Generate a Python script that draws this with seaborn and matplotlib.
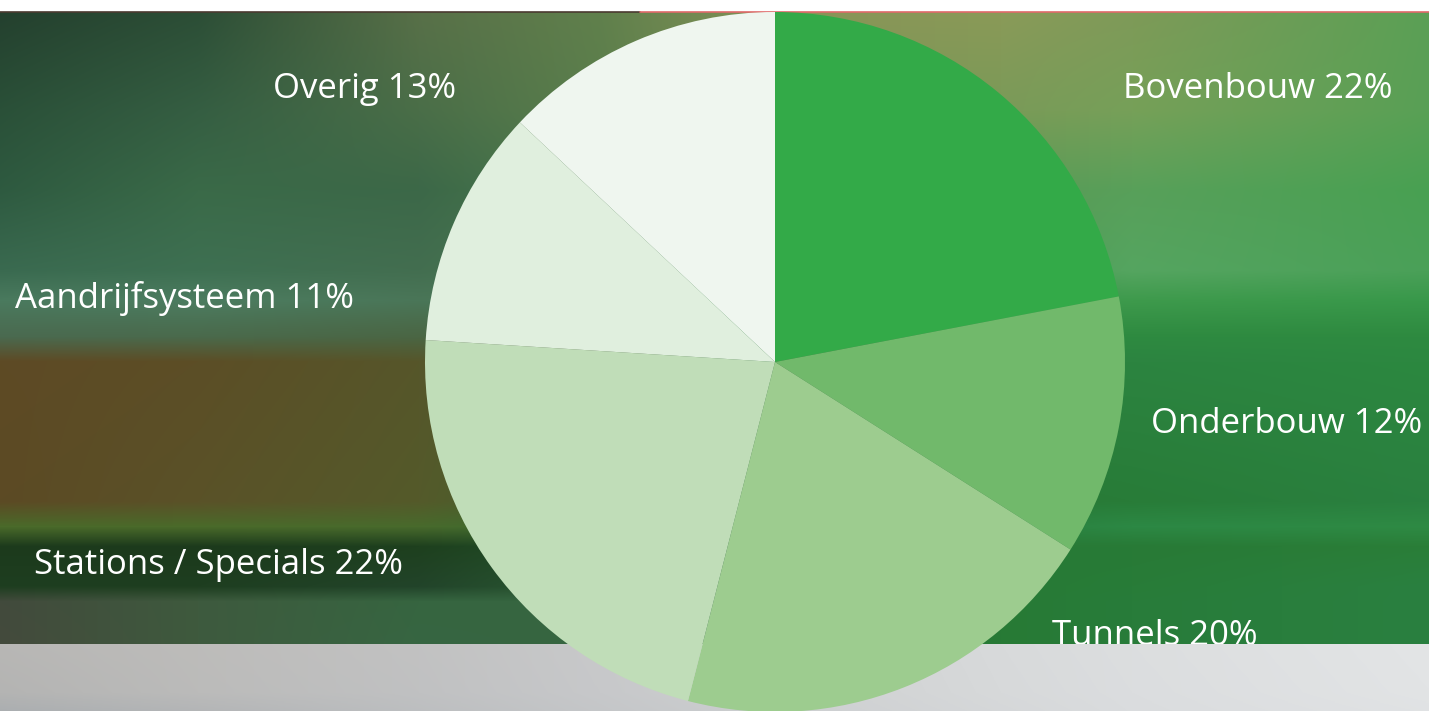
import numpy as np
import matplotlib
matplotlib.use("Agg")
import matplotlib.pyplot as plt
import seaborn as sns

# ---- data ----
categories = ["Bovenbouw", "Onderbouw", "Tunnels", "Stations / Specials", "Aandrijfsysteem", "Overig"]
shares = [22, 12, 20, 22, 11, 13]
slice_colors = ["#33aa48", "#71b96b", "#9dcc8f", "#c0ddb8", "#e0efde", "#eff6ef"]

sns.set_theme(style="white")
plt.rcParams["font.family"] = ["Open Sans", "DejaVu Sans"]

W, H = 1429, 711
fig = plt.figure(figsize=(W / 100, H / 100), dpi=100)
ax = fig.add_axes([0, 0, 1, 1])
ax.set_xlim(0, W)
ax.set_ylim(0, H)
ax.axis("off")

def Y(y):
    return H - y

# ---- photographic-like background (decoration) ----
def hx(c):
    c = c.lstrip("#")
    return [int(c[i:i + 2], 16) / 255 for i in (0, 2, 4)]

def grid_image(xs_nodes, rows, y0, y1):
    xpix = np.arange(W)
    row_imgs = []
    for _, cols in rows:
        arr = np.array([hx(c) for c in cols])
        row_imgs.append(np.stack([np.interp(xpix, xs_nodes, arr[:, k]) for k in range(3)], axis=-1))
    row_imgs = np.array(row_imgs)
    ys_nodes = [r[0] for r in rows]
    ypix = np.arange(y0, y1)
    img = np.empty((len(ypix), W, 3))
    for k in range(3):
        for j in range(W):
            img[:, j, k] = np.interp(ypix, ys_nodes, row_imgs[:, j, k])
    return img

xs_nodes = [0, 200, 420, 600, 800, 1000, 1130, 1429]
rows = [
    (12,  ["#24402e", "#2c4e36", "#587048", "#60804c", "#889458", "#8a9a58", "#7e9a58", "#5aa055"]),
    (110, ["#2a5038", "#355e42", "#4a6e48", "#5a7e4c", "#7a9456", "#7a9a58", "#76a058", "#58a055"]),
    (190, ["#2e5a40", "#3a6a48", "#3c6848", "#4a7a4c", "#5a8a50", "#5a9a55", "#58a05a", "#48a052"]),
    (270, ["#3a6a50", "#3e7052", "#436e50", "#4a7a50", "#4a8a50", "#4c9a55", "#55a560", "#4aa058"]),
    (300, ["#4a7a5e", "#4c7c60", "#4a7658", "#4a7a52", "#3a8a48", "#3a9a50", "#3e9a4c", "#38984a"]),
    (335, ["#4a6a50", "#4a6a4c", "#4a6644", "#3e7040", "#2e8040", "#2e8a40", "#2e8a40", "#2e8a40"]),
    (360, ["#5e4a25", "#5c4e26", "#56562a", "#4a6030", "#30783a", "#2c8440", "#2c8440", "#2c8840"]),
    (500, ["#5c4a24", "#5a5228", "#545a2a", "#3e6630", "#2a7636", "#287a36", "#287c38", "#2a8040"]),
    (525, ["#4a6a2a", "#4a6a2a", "#486a2c", "#386a30", "#2a7a38", "#2a8040", "#2c8844", "#2e8a44"]),
    (545, ["#1c3a1c", "#1c3a1c", "#1e401e", "#22502a", "#267234", "#287a36", "#287a36", "#2a7e38"]),
    (585, ["#1e3e20", "#1e3e20", "#22442a", "#2a5a32", "#267234", "#277a35", "#287c38", "#2a8040"]),
    (600, ["#424a3c", "#3e5a3e", "#366540", "#366540", "#2a7036", "#277a35", "#287c3a", "#2a8040"]),
    (644, ["#444a3c", "#3e5a3e", "#376642", "#366540", "#2a7036", "#277a35", "#287c3a", "#2a8040"]),
]
bg = grid_image(xs_nodes, rows, 12, 644)
ax.imshow(bg, extent=(-3, W + 3, Y(644) - 1, Y(12)), origin="upper", aspect="auto",
          interpolation="nearest", zorder=0)

# thin rule at the top of the photo
ax.plot([-2, 640], [Y(12), Y(12)], color="#4a3a30", lw=1.2, zorder=1)
ax.plot([640, W + 2], [Y(12), Y(12)], color="#e06a6a", lw=1.2, zorder=1)

# grey strip at the bottom
grey_rows = [
    (644, ["#b8b7b5", "#bdbcba", "#c2c2c2", "#c8c9ca", "#d0d2d3", "#d8dadb", "#dcdedf", "#e3e5e6"]),
    (690, ["#b4b4b3", "#bbbbba", "#c0c1c2", "#c7c8ca", "#cfd1d2", "#d7d9da", "#dbdddf", "#e2e4e5"]),
    (711, ["#a9adb0", "#b2b4b6", "#bcbec0", "#c4c6c8", "#cdcfd1", "#d5d7d9", "#dadcde", "#e0e2e4"]),
]
strip = grid_image(xs_nodes, grey_rows, 644, 711)
ax.imshow(strip, extent=(-3, W + 3, -3, Y(644)), origin="upper", aspect="auto",
          interpolation="nearest", zorder=3)

# ---- pie ----
wedges, _ = ax.pie(shares, colors=slice_colors, startangle=90, counterclock=False,
                   center=(775, Y(362)), radius=350, frame=True,
                   wedgeprops=dict(linewidth=0))
for w in wedges:
    w.set_zorder(4)
ax.set_xlim(0, W)
ax.set_ylim(0, H)
ax.set_aspect("auto")
ax.axis("off")

# ---- labels ----
label_pos = {
    "Bovenbouw": (1258, 98),
    "Onderbouw": (1287, 433),
    "Tunnels": (1155, 645),
    "Stations / Specials": (219, 574),
    "Aandrijfsysteem": (185, 308),
    "Overig": (365, 98),
}
for cat, val in zip(categories, shares):
    x, yb = label_pos[cat]
    z = 2 if cat == "Tunnels" else 6
    ax.text(x, Y(yb), f"{cat} {val}%", color="white", fontsize=25,
            ha="center", va="baseline", zorder=z)

fig.savefig("out.png", dpi=100)
